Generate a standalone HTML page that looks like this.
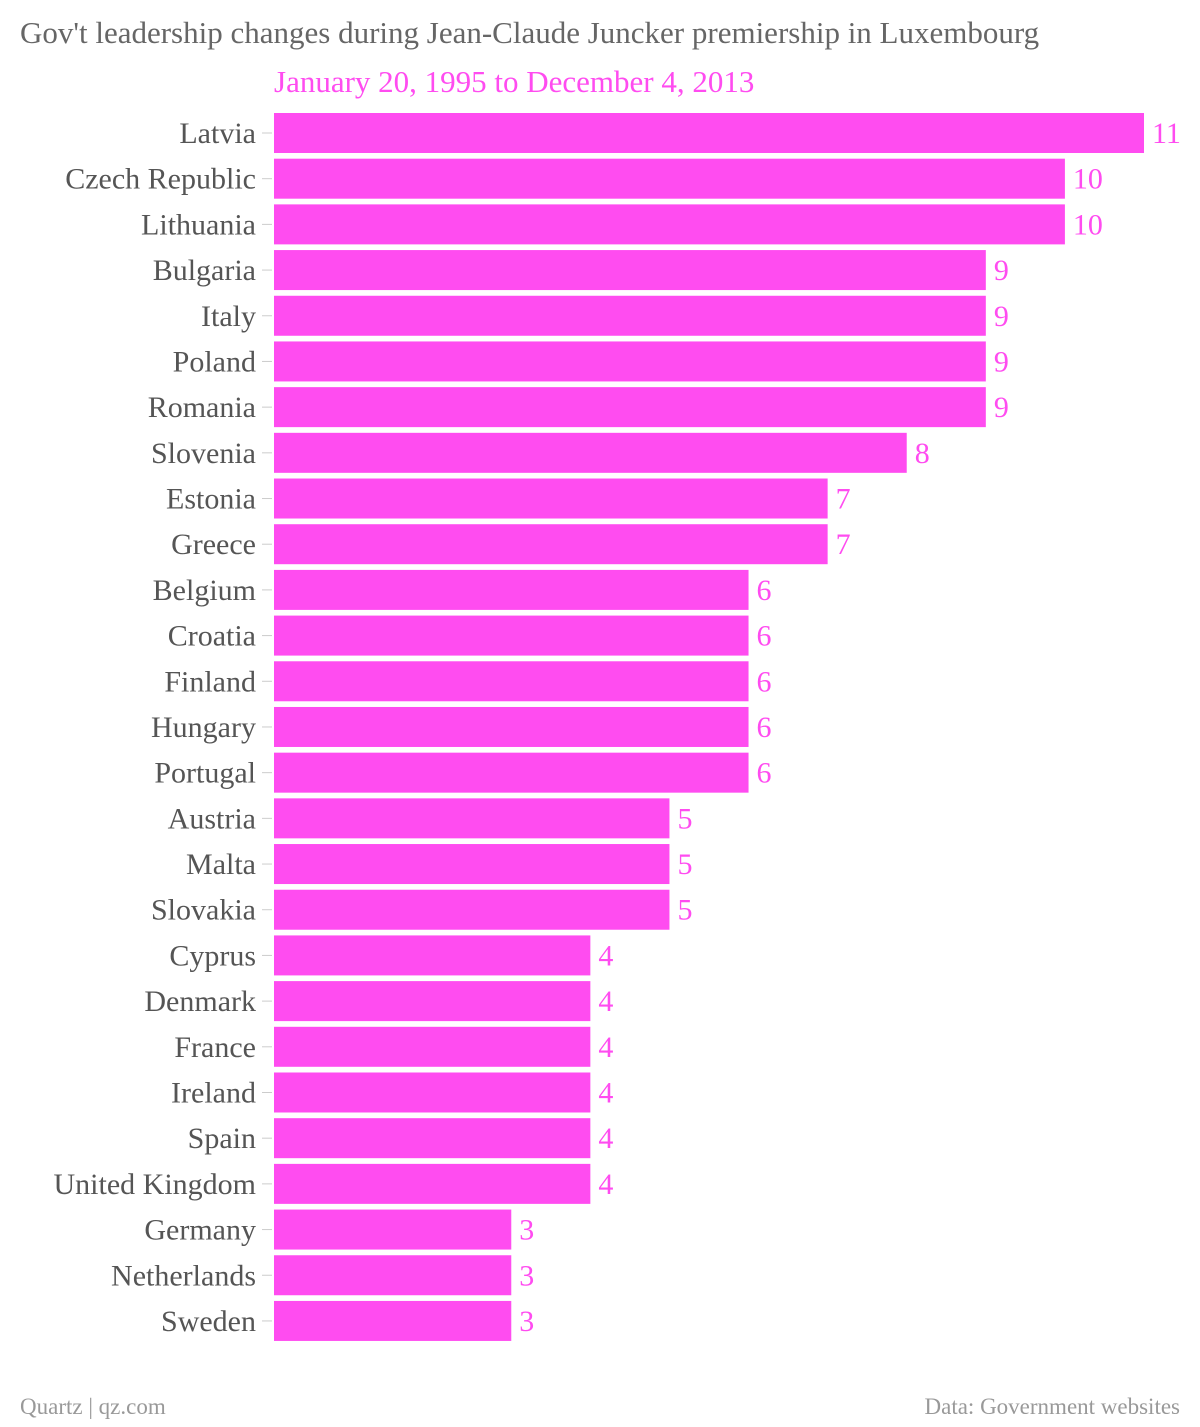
<!DOCTYPE html>
<html><head><meta charset="utf-8"><style>
body{margin:0;background:#fff;}
svg text{font-family:"Liberation Serif",serif;}
</style></head><body>
<svg width="1200" height="1422" xmlns="http://www.w3.org/2000/svg">
<text x="20" y="43" font-size="31" fill="#666">Gov't leadership changes during Jean-Claude Juncker premiership in Luxembourg</text>
<text x="274" y="92" font-size="31" fill="#ff4cf0">January 20, 1995 to December 4, 2013</text>
<g id="bars"></g>
<text x="20" y="1414" font-size="23" fill="#999">Quartz | qz.com</text>
<text x="1180" y="1414" font-size="23" fill="#999" text-anchor="end">Data: Government websites</text>
</svg>
<script>
const categories=["Latvia","Czech Republic","Lithuania","Bulgaria","Italy","Poland","Romania","Slovenia","Estonia","Greece","Belgium","Croatia","Finland","Hungary","Portugal","Austria","Malta","Slovakia","Cyprus","Denmark","France","Ireland","Spain","United Kingdom","Germany","Netherlands","Sweden"];
const values=[11,10,10,9,9,9,9,8,7,7,6,6,6,6,6,5,5,5,4,4,4,4,4,4,3,3,3];
const x0=274,unit=(1144-274)/11,top0=113,pitch=45.69,bh=40;
const xs=v=>x0+v*unit, ys=i=>top0+i*pitch;
const g=document.getElementById('bars');const NS="http://www.w3.org/2000/svg";
categories.forEach((c,i)=>{
 const y=ys(i);
 const t=document.createElementNS(NS,'line');
 t.setAttribute('x1',262);t.setAttribute('x2',272);t.setAttribute('y1',y+bh/2);t.setAttribute('y2',y+bh/2);t.setAttribute('stroke','#ccc');
 
 
 g.appendChild(t);
 const l=document.createElementNS(NS,'text');
 l.setAttribute('x',256);l.setAttribute('y',y+bh/2+10);l.setAttribute('text-anchor','end');l.setAttribute('font-size','30');l.setAttribute('fill','#555');l.textContent=c;
 
 
 g.appendChild(l);
 const r=document.createElementNS(NS,'rect');
 r.setAttribute('x',x0);r.setAttribute('y',y);r.setAttribute('width',xs(values[i])-x0);r.setAttribute('height',bh);r.setAttribute('fill','#ff4cf0');
 
 
 g.appendChild(r);
 const v=document.createElementNS(NS,'text');
 v.setAttribute('x',xs(values[i])+8);v.setAttribute('y',y+bh/2+10);v.setAttribute('font-size','30');v.setAttribute('fill','#ff4cf0');v.textContent=values[i];
 
 
 g.appendChild(v);
});
</script>
</body></html>
